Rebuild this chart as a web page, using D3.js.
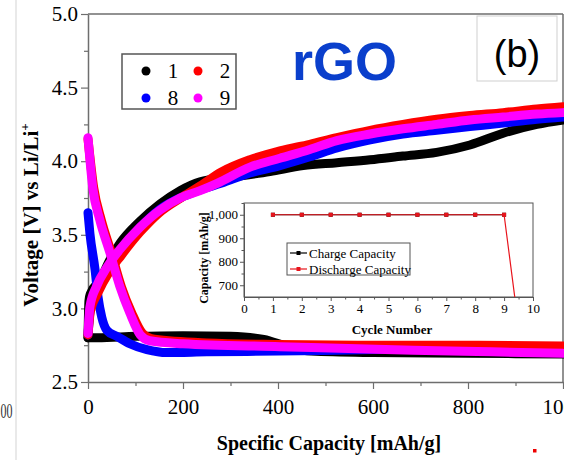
<!DOCTYPE html>
<html>
<head>
<meta charset="utf-8">
<script src="https://cdn.jsdelivr.net/npm/d3@7"></script>
<style>
  html, body { margin: 0; padding: 0; background: #fff; }
  svg { display: block; }
</style>
</head>
<body>
<svg id="chart" width="564" height="460"></svg>
<script>
// Galvanostatic charge/discharge profiles, [capacity mAh/g, voltage V]
const cycle1Charge = [[0,2.80],[2,3.05],[5,3.10],[25,3.19],[46,3.33],[67,3.44],[109,3.59],[152,3.71],[194,3.80],[236,3.86],[300,3.89],[383,3.93],[453,3.97],[524,3.99],[594,4.01],[663,4.035],[734,4.06],[804,4.11],[874,4.19],[945,4.25],[1000,4.28]];
const cycle1Discharge = [[0,2.80],[20,2.80],[100,2.81],[200,2.815],[300,2.81],[370,2.79],[420,2.74],[470,2.71],[600,2.70],[800,2.695],[1000,2.69]];
const cycle2Charge = [[0,2.82],[5,2.98],[20,3.10],[45,3.25],[70,3.36],[110,3.52],[150,3.65],[200,3.76],[240,3.84],[280,3.925],[341,4.01],[404,4.07],[467,4.115],[524,4.16],[594,4.21],[663,4.25],[734,4.285],[804,4.31],[874,4.33],[945,4.355],[1000,4.37]];
const cycle2Discharge = [[0,4.15],[12,3.82],[28,3.60],[49,3.38],[70,3.15],[92,2.97],[115,2.83],[140,2.79],[250,2.765],[400,2.755],[600,2.75],[800,2.75],[1000,2.745]];
const cycle8Charge = [[0,2.82],[5,3.00],[20,3.14],[45,3.28],[70,3.40],[110,3.55],[150,3.67],[200,3.76],[240,3.81],[280,3.85],[341,3.92],[404,3.97],[467,4.03],[524,4.09],[594,4.145],[663,4.185],[734,4.21],[804,4.235],[874,4.26],[945,4.285],[1000,4.30]];
const cycle8Discharge = [[0,3.65],[4,3.51],[15,3.26],[21,3.08],[29,2.94],[40,2.85],[61,2.81],[88,2.76],[124,2.72],[166,2.70],[250,2.705],[400,2.71],[600,2.72],[800,2.725],[1000,2.73]];
const cycle9Charge = [[0,2.83],[4,3.01],[18,3.15],[40,3.28],[67,3.40],[109,3.55],[152,3.67],[194,3.75],[236,3.80],[272,3.85],[341,3.96],[404,4.02],[467,4.08],[524,4.14],[594,4.185],[663,4.22],[734,4.25],[804,4.28],[874,4.30],[945,4.32],[1000,4.33]];
const cycle9Discharge = [[0,4.16],[10,3.82],[25,3.60],[46,3.38],[67,3.15],[88,2.97],[110,2.82],[130,2.78],[200,2.76],[404,2.74],[684,2.715],[850,2.705],[1000,2.695]];

const cycleNames = ["1", "2", "8", "9"];
const cycleColors = ["#000000", "#ff0000", "#0000ff", "#ff00ff"];

const xTicks = [0, 200, 400, 600, 800, 1000];
const yTicks = [2.5, 3.0, 3.5, 4.0, 4.5, 5.0];

// Inset: capacity per cycle
const insetCycles = [1, 2, 3, 4, 5, 6, 7, 8, 9, 10];
const chargeCapacity = [1000, 1000, 1000, 1000, 1000, 1000, 1000, 1000, 1000];
const dischargeCapacity = [1000, 1000, 1000, 1000, 1000, 1000, 1000, 1000, 1000, 50];
const insetXTicks = [0, 1, 2, 3, 4, 5, 6, 7, 8, 9, 10];
const insetYTicks = [700, 800, 900, 1000];

const svg = d3.select("#chart");
const serif = "'Liberation Serif', 'Times New Roman', serif";
const sans = "'Liberation Sans', Arial, sans-serif";
const axisGray = "#6e6e6e";

// neighbouring panel remnants
svg.append("line").attr("x1", 16).attr("x2", 16).attr("y1", 0).attr("y2", 460)
  .attr("stroke", "#e2e2e2").attr("stroke-width", 1.5);
svg.append("text").attr("x", 0.5).attr("y", 418)
  .attr("font-family", serif).attr("font-size", 20).attr("textLength", 12)
  .attr("lengthAdjust", "spacingAndGlyphs").attr("fill", "#333").text("00");
svg.append("rect").attr("x", 533).attr("y", 449).attr("width", 3.5).attr("height", 3.5).attr("fill", "#e00");

const x = d3.scaleLinear().domain([0, 1000]).range([88, 563]);
const y = d3.scaleLinear().domain([2.5, 5.0]).range([382, 14]);

// frame (top and right)
svg.append("line").attr("x1", 88).attr("x2", 563).attr("y1", 14).attr("y2", 14)
  .attr("stroke", axisGray).attr("stroke-width", 1.5);
svg.append("line").attr("x1", 563).attr("x2", 563).attr("y1", 14).attr("y2", 382)
  .attr("stroke", axisGray).attr("stroke-width", 1.5);

function styleAxis(g, size) {
  g.select(".domain").attr("stroke", axisGray).attr("stroke-width", 1.5);
  g.selectAll(".tick line").attr("stroke", axisGray).attr("stroke-width", 1.2);
  g.selectAll(".tick text").attr("font-family", serif).attr("font-size", size).attr("fill", "#000");
}

// minor ticks
svg.append("g").attr("transform", "translate(0,382)")
  .call(d3.axisBottom(x).tickValues(d3.range(100, 1000, 200)).tickSize(4).tickFormat(""))
  .call(g => { g.select(".domain").remove(); g.selectAll("line").attr("stroke", axisGray).attr("stroke-width", 1.2); });
svg.append("g").attr("transform", "translate(88,0)")
  .call(d3.axisLeft(y).tickValues([2.75, 3.25, 3.75, 4.25, 4.75]).tickSize(4).tickFormat(""))
  .call(g => { g.select(".domain").remove(); g.selectAll("line").attr("stroke", axisGray).attr("stroke-width", 1.2); });

svg.append("g").attr("transform", "translate(0,382)")
  .call(d3.axisBottom(x).tickValues(xTicks).tickSize(7).tickSizeOuter(0).tickPadding(10).tickFormat(d3.format("d")))
  .call(g => styleAxis(g, 21));
svg.append("g").attr("transform", "translate(88,0)")
  .call(d3.axisLeft(y).tickValues(yTicks).tickSize(7).tickSizeOuter(0).tickPadding(3).tickFormat(d3.format(".1f")))
  .call(g => styleAxis(g, 21));

// axis titles
svg.append("text").attr("x", 329).attr("y", 450).attr("text-anchor", "middle")
  .attr("font-family", serif).attr("font-weight", "bold").attr("font-size", 20)
  .text("Specific Capacity [mAh/g]");
const yt = svg.append("text").attr("transform", "translate(38,215) rotate(-90)")
  .attr("text-anchor", "middle").attr("font-family", serif).attr("font-weight", "bold").attr("font-size", 21);
yt.append("tspan").text("Voltage [V] vs Li/Li");
yt.append("tspan").attr("dy", -9).attr("font-size", 13).text("+");

// titles
svg.append("text").attr("x", 292).attr("y", 80).attr("font-family", sans).attr("font-weight", "bold")
  .attr("font-size", 54).attr("fill", "#0a3fcc").text("rGO");
svg.append("rect").attr("x", 477).attr("y", 16).attr("width", 80).attr("height", 65)
  .attr("fill", "#fff").attr("stroke", "#cfcfcf").attr("stroke-width", 1);
svg.append("text").attr("x", 517).attr("y", 67).attr("text-anchor", "middle")
  .attr("font-family", sans).attr("font-size", 38).text("(b)");

// curves
const line = d3.line().x(d => x(d[0])).y(d => y(d[1])).curve(d3.curveMonotoneX);
const curveSets = [
  { data: [cycle1Charge, cycle1Discharge], color: cycleColors[0] },
  { data: [cycle8Charge, cycle8Discharge], color: cycleColors[2] },
  { data: [cycle2Charge, cycle2Discharge], color: cycleColors[1] },
  { data: [cycle9Charge, cycle9Discharge], color: cycleColors[3] }
];
const curves = svg.append("g").attr("fill", "none").attr("stroke-width", 9)
  .attr("stroke-linecap", "round").attr("stroke-linejoin", "round");
curveSets.forEach(s => {
  s.data.forEach(d => curves.append("path").attr("d", line(d)).attr("stroke", s.color));
});

// legend
const leg = svg.append("g");
leg.append("rect").attr("x", 122).attr("y", 54).attr("width", 114).attr("height", 55)
  .attr("fill", "#fff").attr("stroke", "#555").attr("stroke-width", 1.5);
const legPos = [[146, 71], [198, 71], [146, 98], [198, 98]];
cycleNames.forEach((n, i) => {
  leg.append("circle").attr("cx", legPos[i][0]).attr("cy", legPos[i][1]).attr("r", 4.5).attr("fill", cycleColors[i]);
  leg.append("text").attr("x", legPos[i][0] + 27).attr("y", legPos[i][1] + 7).attr("text-anchor", "middle")
    .attr("font-family", serif).attr("font-size", 21).text(n);
});

// inset chart
const ix = d3.scaleLinear().domain([0, 10]).range([244, 533]);
const iy = d3.scaleLinear().domain([650, 1050]).range([297, 203]);
const inset = svg.append("g");
inset.append("rect").attr("x", 244).attr("y", 203).attr("width", 289).attr("height", 94)
  .attr("fill", "#fff").attr("stroke", "#555").attr("stroke-width", 1);
inset.append("g").attr("transform", "translate(0,297)")
  .call(d3.axisBottom(ix).tickValues(d3.range(0.5, 10, 1)).tickSize(2.5).tickFormat(""))
  .call(g => { g.select(".domain").remove(); g.selectAll("line").attr("stroke", "#555"); });
inset.append("g").attr("transform", "translate(244,0)")
  .call(d3.axisLeft(iy).tickValues([750, 850, 950, 1050]).tickSize(2.5).tickFormat(""))
  .call(g => { g.select(".domain").remove(); g.selectAll("line").attr("stroke", "#555"); });
inset.append("g").attr("transform", "translate(0,297)")
  .call(d3.axisBottom(ix).tickValues(insetXTicks).tickSize(4).tickSizeOuter(0).tickPadding(3))
  .call(g => { g.select(".domain").attr("stroke", "#555");
    g.selectAll(".tick line").attr("stroke", "#555");
    g.selectAll(".tick text").attr("font-family", serif).attr("font-size", 13).attr("fill", "#000"); });
inset.append("g").attr("transform", "translate(244,0)")
  .call(d3.axisLeft(iy).tickValues(insetYTicks).tickSize(4).tickSizeOuter(0).tickPadding(2))
  .call(g => { g.select(".domain").attr("stroke", "#555");
    g.selectAll(".tick line").attr("stroke", "#555");
    g.selectAll(".tick text").attr("font-family", serif).attr("font-size", 13).attr("fill", "#000"); });

svg.append("clipPath").attr("id", "insetClip").append("rect")
  .attr("x", 244).attr("y", 203).attr("width", 289).attr("height", 94);
const iline = d3.line().x((d, i) => ix(insetCycles[i])).y(d => iy(d));
const plotG = inset.append("g").attr("clip-path", "url(#insetClip)");
plotG.append("path").attr("d", iline(chargeCapacity)).attr("fill", "none").attr("stroke", "#000").attr("stroke-width", 1.2);
plotG.selectAll(".cm").data(chargeCapacity).join("rect")
  .attr("x", (d, i) => ix(insetCycles[i]) - 2).attr("y", d => iy(d) - 2).attr("width", 4).attr("height", 4).attr("fill", "#000");
plotG.append("path").attr("d", iline(dischargeCapacity)).attr("fill", "none").attr("stroke", "#e8141c").attr("stroke-width", 1.2);
plotG.selectAll(".dm").data(dischargeCapacity).join("rect")
  .attr("x", (d, i) => ix(insetCycles[i]) - 2).attr("y", d => iy(d) - 2).attr("width", 4).attr("height", 4).attr("fill", "#e8141c");

inset.append("text").attr("transform", "translate(208,258) rotate(-90)").attr("text-anchor", "middle")
  .attr("font-family", serif).attr("font-weight", "bold").attr("font-size", 12).text("Capacity [mAh/g]");
inset.append("text").attr("x", 392).attr("y", 334).attr("text-anchor", "middle")
  .attr("font-family", serif).attr("font-weight", "bold").attr("font-size", 13).text("Cycle Number");

// inset legend
inset.append("rect").attr("x", 287).attr("y", 243).attr("width", 123).attr("height", 32)
  .attr("fill", "#fff").attr("stroke", "#555").attr("stroke-width", 1);
[["Charge Capacity", "#000", 253], ["Discharge Capacity", "#e8141c", 269]].forEach(([label, c, ly]) => {
  inset.append("line").attr("x1", 290).attr("x2", 307).attr("y1", ly).attr("y2", ly).attr("stroke", c).attr("stroke-width", 1.2);
  inset.append("rect").attr("x", 296.5).attr("y", ly - 2).attr("width", 4).attr("height", 4).attr("fill", c);
  inset.append("text").attr("x", 309).attr("y", ly + 4.5).attr("font-family", serif).attr("font-size", 13).text(label);
});
</script>
</body>
</html>
